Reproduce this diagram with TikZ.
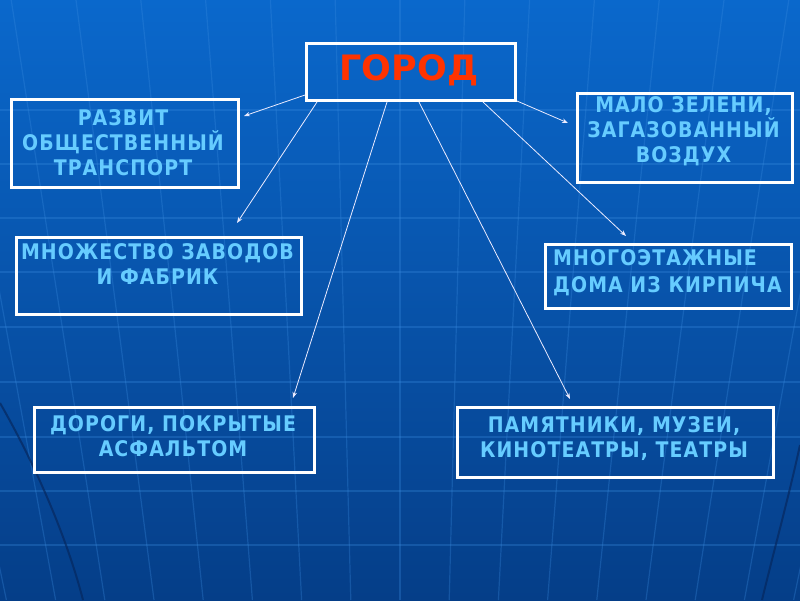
\documentclass[tikz,border=0pt]{standalone}
\usepackage{fontspec}
\newfontfamily\boxfont{DejaVu Sans}[LetterSpace=5,FakeStretch=0.88]
\newfontfamily\titlefont{DejaVu Sans}
\usetikzlibrary{arrows.meta,calc}
\definecolor{bgtop}{HTML}{0A68CC}
\definecolor{bgmid}{HTML}{0A55B2}
\definecolor{bgbot}{HTML}{053E88}
\definecolor{gridc}{HTML}{3A8CE0}
\definecolor{darkarc}{HTML}{06285F}
\definecolor{txtc}{HTML}{66CCFF}
\definecolor{titlec}{HTML}{FF3300}
\tikzset{
  frame/.style={draw=white,line width=3pt,inner sep=0pt,anchor=north west},
  boxtext/.style={text=txtc,font=\boxfont\bfseries\fontsize{21.5}{25}\selectfont,align=center,inner sep=0pt},
  conn/.style={draw=white!92!blue,line width=0.8pt,-{Stealth[length=6pt,width=4.5pt]}},
  gridline/.style={draw=gridc,line width=1.2pt,opacity=0.3}
}
\begin{document}
\begin{tikzpicture}[x=1pt,y=-1pt]
% background
\shade[top color=bgtop,middle color=bgmid,bottom color=bgbot] (0,0) rectangle (800,600);
\useasboundingbox (0,0) rectangle (800,600);
\begin{scope}
\clip (0,0) rectangle (800,600);
\foreach \yy in {110,164,218,272,327,382,437,491,545} {
  \draw[gridline] (0,\yy) -- (800,\yy);
}
\foreach \k in {-8,...,8} {
  \draw[gridline] ({400+\k*64.8},0) -- ({400+\k*49.2},600);
}
\draw[darkarc,line width=2pt,opacity=0.7] (0,403) .. controls (30,455) and (65,530) .. (83,600);
\draw[darkarc,line width=2pt,opacity=0.7] (800,445) .. controls (788,500) and (774,550) .. (762,600);
\end{scope}
% boxes
\node[frame,minimum width=209pt,minimum height=57pt] (g) at (305,42) {};
\node[text=titlec,font=\titlefont\bfseries\fontsize{35}{40}\selectfont,inner sep=0pt] (gt) at (409,70) {ГОРОД};
\node[frame,minimum width=227pt,minimum height=88pt] (b1) at (10,98) {};
\node[boxtext] (t1) at (123,142.5) {РАЗВИТ\\ОБЩЕСТВЕННЫЙ\\ТРАНСПОРТ};
\node[frame,minimum width=285pt,minimum height=77pt] (b2) at (15,236) {};
\node[boxtext] (t2) at (157.5,264) {МНОЖЕСТВО ЗАВОДОВ\\И ФАБРИК};
\node[frame,minimum width=215pt,minimum height=89pt] (b3) at (576,92) {};
\node[boxtext] (t3) at (683.5,131) {МАЛО ЗЕЛЕНИ,\\ЗАГАЗОВАННЫЙ\\ВОЗДУХ};
\node[frame,minimum width=246pt,minimum height=64pt] (b4) at (544,243) {};
\node[boxtext,align=left,anchor=west,font=\boxfont\bfseries\fontsize{21.5}{27}\selectfont] (t4) at (553,272.5) {МНОГОЭТАЖНЫЕ\\ДОМА ИЗ КИРПИЧА};
\node[frame,minimum width=280pt,minimum height=65pt] (b5) at (33,406) {};
\node[boxtext] (t5) at (173,436) {ДОРОГИ, ПОКРЫТЫЕ\\АСФАЛЬТОМ};
\node[frame,minimum width=316pt,minimum height=70pt] (b6) at (456,406) {};
\node[boxtext] (t6) at (614,438.5) {ПАМЯТНИКИ, МУЗЕИ,\\КИНОТЕАТРЫ, ТЕАТРЫ};
% arrow end points
\coordinate (e1) at (244,116);
\coordinate (e2) at (237,223);
\coordinate (e5) at (293,398);
\coordinate (e6) at (570,399);
\coordinate (e4) at (626,236);
\coordinate (e3) at (568,123);
% connectors
\draw[conn] ($(g.south west)+(0,-7)$) -- (e1);
\draw[conn] ($(g.south west)+(12,0)$) -- (e2);
\draw[conn] ($(g.south west)+(82,0)$) -- (e5);
\draw[conn] ($(g.south west)+(114,0)$) -- (e6);
\draw[conn] ($(g.south west)+(178,0)$) -- (e4);
\draw[conn] ($(g.south east)+(0,-1)$) -- (e3);
\end{tikzpicture}
\end{document}
